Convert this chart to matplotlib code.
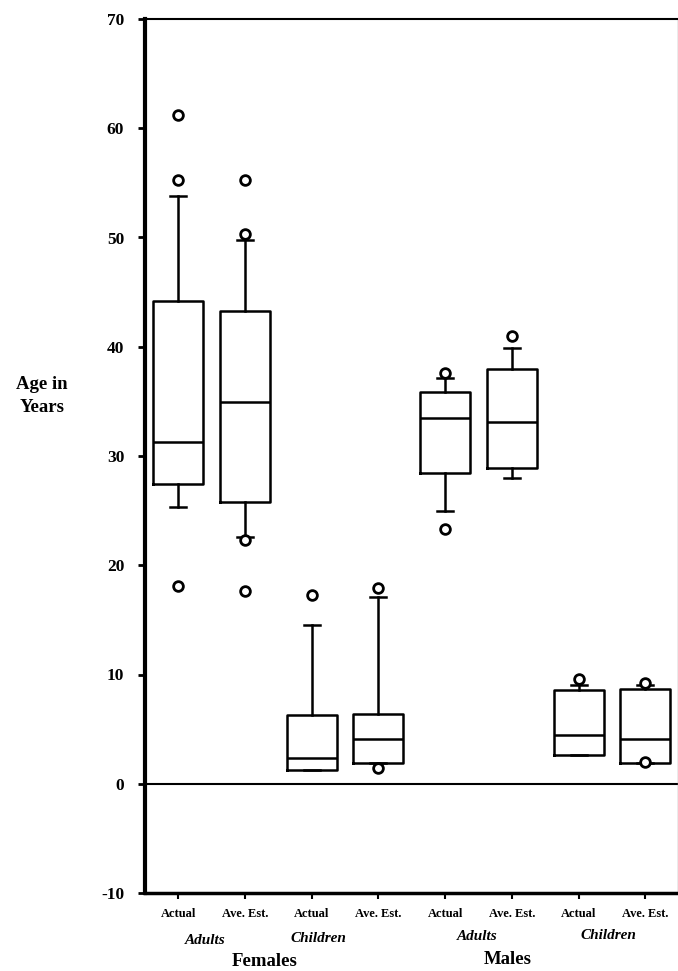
import matplotlib
matplotlib.use("Agg")
import matplotlib.pyplot as plt
from matplotlib.transforms import blended_transform_factory

# ---- data ----
tick_labels = ["Actual", "Ave. Est.", "Actual", "Ave. Est.",
               "Actual", "Ave. Est.", "Actual", "Ave. Est."]
group_labels = ["Adults", "Children", "Adults", "Children"]
sex_labels = ["Females", "Males"]

q1      = [27.4, 25.8, 1.3, 1.9, 28.4, 28.9, 2.65, 1.9]
medians = [31.3, 34.9, 2.4, 4.1, 33.5, 33.1, 4.5, 4.1]
q3      = [44.2, 43.3, 6.3, 6.4, 35.9, 38.0, 8.6, 8.7]
whislo  = [25.3, 22.6, 1.3, 1.9, 25.0, 28.0, 2.65, 1.9]
whishi  = [53.8, 49.8, 14.5, 17.1, 37.1, 39.9, 9.0, 9.0]
fliers  = [[61.2, 55.3, 18.1],
           [55.3, 50.3, 22.3, 17.6],
           [17.3],
           [17.9, 1.4],
           [37.6, 23.3],
           [41.0],
           [9.6],
           [9.2, 2.0]]

yticks = [-10, 0, 10, 20, 30, 40, 50, 60, 70]

# ---- figure ----
fig = plt.figure(figsize=(6.78, 9.71), dpi=100)
ax = fig.add_axes([145/678, 78/971, 533/678, 874/971])

serif = ["Liberation Serif", "DejaVu Serif"]

stats = []
for i in range(len(medians)):
    stats.append(dict(med=medians[i], q1=q1[i], q3=q3[i],
                      whislo=whislo[i], whishi=whishi[i], fliers=fliers[i]))

positions = list(range(1, len(stats) + 1))
ax.bxp(stats, positions=positions, widths=0.75, capwidths=0.24,
       showfliers=True,
       boxprops=dict(color="black", linewidth=1.8),
       medianprops=dict(color="black", linewidth=1.8),
       whiskerprops=dict(color="black", linewidth=1.8),
       capprops=dict(color="black", linewidth=1.8),
       flierprops=dict(marker="o", markerfacecolor="white",
                       markeredgecolor="black", markersize=7,
                       markeredgewidth=2.0, linestyle="none"))

ax.axhline(0, color="black", linewidth=1.5, zorder=0)

ax.set_xlim(0.5, 8.49)
ax.set_ylim(-10, 70)
ax.set_yticks(yticks)
ax.set_yticklabels([str(t) for t in yticks], family=serif,
                   fontweight="bold", fontsize=12.5)
ax.set_xticks(positions)
ax.set_xticklabels(tick_labels, family=serif, fontweight="bold", fontsize=9)
ax.tick_params(axis="y", direction="out", length=5, width=2, pad=10)
ax.tick_params(axis="x", direction="out", length=4, width=1.5, pad=7)

ax.spines["left"].set_linewidth(3)
ax.spines["bottom"].set_linewidth(2.5)
ax.spines["top"].set_linewidth(1.5)
ax.spines["right"].set_linewidth(1.0)
ax.spines["right"].set_color("#999999")

trans = blended_transform_factory(ax.transData, fig.transFigure)
group_x = [1.40, 3.10, 5.48, 7.45]
group_y = [1 - 940/971, 1 - 938/971, 1 - 936/971, 1 - 935/971]
for gx, gy, lab in zip(group_x, group_y, group_labels):
    ax.text(gx, gy, lab, transform=trans, ha="center", va="center",
            family=serif, fontstyle="italic", fontweight="bold", fontsize=11)

sex_x = [2.29, 5.93]
sex_y = [1 - 961/971, 1 - 959/971]
for sx, sy, lab in zip(sex_x, sex_y, sex_labels):
    ax.text(sx, sy, lab, transform=trans, ha="center", va="center",
            family=serif, fontweight="bold", fontsize=13.5)

fig.text(42/678, 1 - 396/971, "Age in\nYears", ha="center", va="center",
         family=serif, fontweight="bold", fontsize=13.5, linespacing=1.4)

fig.savefig("out.png", dpi=100)
